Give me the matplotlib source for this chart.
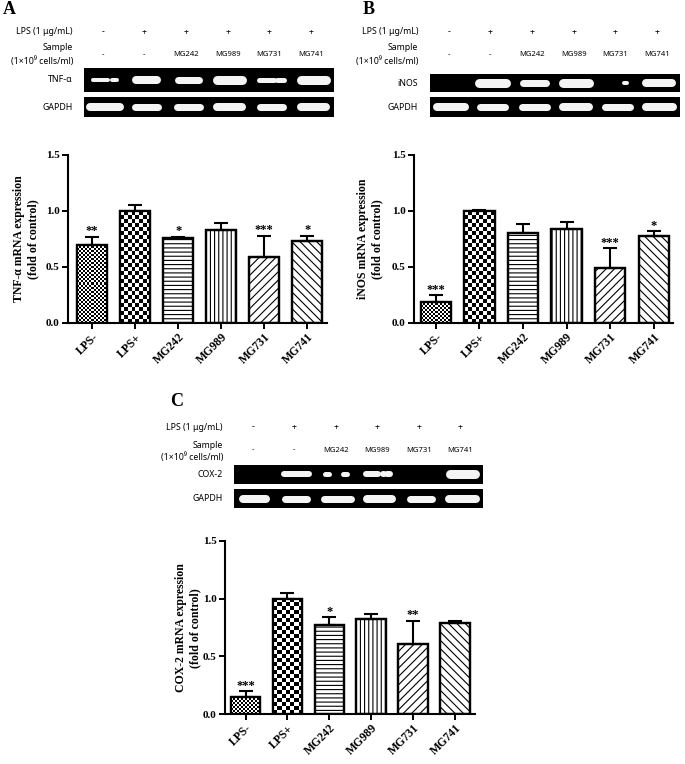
import numpy as np
import matplotlib
matplotlib.use('Agg')
import matplotlib.pyplot as plt

# ---- data ----
groups = ['LPS-', 'LPS+', 'MG242', 'MG989', 'MG731', 'MG741']
lps_row = ['-', '+', '+', '+', '+', '+']
sample_row = ['-', '-', 'MG242', 'MG989', 'MG731', 'MG741']

tnf_mean = [0.70, 1.00, 0.76, 0.83, 0.59, 0.73]
tnf_err = [0.07, 0.05, 0.01, 0.06, 0.19, 0.05]
tnf_sig = ['**', '', '*', '', '***', '*']

inos_mean = [0.19, 1.00, 0.80, 0.84, 0.49, 0.78]
inos_err = [0.06, 0.01, 0.08, 0.06, 0.18, 0.04]
inos_sig = ['***', '', '', '', '***', '*']

cox_mean = [0.15, 1.00, 0.77, 0.82, 0.61, 0.79]
cox_err = [0.05, 0.05, 0.07, 0.05, 0.20, 0.02]
cox_sig = ['***', '', '*', '', '**', '']

# gel bands: per lane a list of (start, end) offsets from lane centre, in lane widths
tnf_bands = [[(-0.28, 0.08), (0.18, 0.28)], [(-0.25, 0.25)], [(-0.25, 0.25)],
             [(-0.30, 0.30)], [(-0.30, 0.05), (0.12, 0.30)], [(-0.30, 0.30)]]
tnf_thick = [4, 8, 7, 9, 5, 9]
inos_bands = [[], [(-0.33, 0.33)], [(-0.28, 0.28)], [(-0.32, 0.32)],
              [(-0.12, -0.10), (0.15, 0.22)], [(-0.32, 0.30)]]
inos_thick = [0, 9, 7, 9, 4, 8]
cox_bands = [[], [(-0.30, 0.30)], [(-0.30, -0.20), (0.12, 0.22)],
             [(-0.32, -0.02), (0.10, 0.12), (0.18, 0.26)], [], [(-0.30, 0.30)]]
cox_thick = [0, 6, 5, 6, 0, 9]
gapdh_a = [[(-0.36, 0.36)], [(-0.28, 0.28)], [(-0.28, 0.28)], [(-0.30, 0.30)],
           [(-0.28, 0.28)], [(-0.30, 0.30)]]
gapdh_b = [[(-0.34, 0.34)], [(-0.30, 0.30)], [(-0.30, 0.30)], [(-0.32, 0.32)],
           [(-0.30, 0.30)], [(-0.32, 0.32)]]
gapdh_c = [[(-0.28, 0.28)], [(-0.26, 0.26)], [(-0.32, 0.32)], [(-0.30, 0.30)],
           [(-0.27, 0.27)], [(-0.32, 0.32)]]
gapdh_thick = [8, 7, 7, 8, 7, 8]

W, H = 685, 764
SERIF = 'Liberation Serif'
SANS = ['Noto Sans', 'DejaVu Sans']
plt.rcParams['hatch.linewidth'] = 0.8

fig = plt.figure(figsize=(W / 100, H / 100), dpi=100)


def rect(x0, y0, x1, y1):
    return [x0 / W, 1 - y1 / H, (x1 - x0) / W, (y1 - y0) / H]


def ftext(x, y, s, **kw):
    fig.text(x / W, 1 - y / H, s, **kw)


def draw_gel(box, bands, thick):
    ax = fig.add_axes(rect(*box))
    ax.set_facecolor('black')
    for i, segs in enumerate(bands):
        for a, b in segs:
            ax.plot([i + 0.5 + a, i + 0.5 + b], [0.5, 0.5], color='#f4f4f4',
                    lw=thick[i] * 0.72, solid_capstyle='round')
    ax.set_xlim(0, 6)
    ax.set_ylim(0, 1)
    ax.set_xticks([])
    ax.set_yticks([])
    for s in ax.spines.values():
        s.set_visible(False)


def draw_header(letter, letter_xy, lbl_x, gx0, gx1, ys, gel_name, gel_boxes, gel_bands, gel_thick):
    ftext(letter_xy[0], letter_xy[1], letter, family=SERIF, weight='bold',
          fontsize=13, ha='left', va='center')
    y_lps, y_samp, y_cells, y_val = ys
    ftext(lbl_x, y_lps, 'LPS (1 μg/mL)', family=SANS, fontsize=6.3, ha='right', va='center')
    ftext(lbl_x, y_samp, 'Sample', family=SANS, fontsize=6.3, ha='right', va='center')
    ftext(lbl_x, y_cells, '(1×10⁹ cells/ml)', family=SANS, fontsize=6.3, ha='right', va='center')
    lane_w = (gx1 - gx0) / 6
    for i in range(6):
        cx = gx0 + lane_w * (i + 0.45)
        ftext(cx, y_lps, lps_row[i], family=SANS, fontsize=6.3, ha='center', va='center')
        ftext(cx, y_val, sample_row[i], family=SANS, fontsize=5.5, ha='center', va='center')
    names = [gel_name, 'GAPDH']
    for k in range(2):
        box = (gx0, gel_boxes[k][0], gx1, gel_boxes[k][1])
        draw_gel(box, gel_bands[k], gel_thick[k])
        ftext(lbl_x, (gel_boxes[k][0] + gel_boxes[k][1]) / 2, names[k], family=SANS,
              fontsize=6.3, ha='right', va='center')


def checker(ax, bar, cell):
    x0 = bar.get_x()
    x1 = x0 + bar.get_width()
    h = bar.get_height()
    (p0x, p0y), (p1x, p1y) = ax.transData.transform([(x0, 0), (x1, h)])
    nx = max(1, int(round((p1x - p0x) / cell)))
    ny = max(1, int(round((p1y - p0y) / cell)))
    arr = np.indices((ny, nx)).sum(axis=0) % 2
    im = ax.imshow(arr, extent=(x0, x1, 0, h), origin='lower', cmap='gray',
                   interpolation='nearest', aspect='auto', zorder=2)
    im.set_clip_path(bar)


hatches = [None, None, '----', '||||', '////', '\\\\\\\\']
cells = [2.0, 4.0, None, None, None, None]


def draw_chart(box, xlim, mean, err, sig, ylab, ylab_xy):
    ax = fig.add_axes(rect(*box))
    x = np.arange(len(groups))
    ax.set_xlim(*xlim)
    ax.set_ylim(0, 1.5)
    bars = ax.bar(x, mean, width=0.7, color='white', edgecolor='black', lw=1.6, zorder=1)
    for b, h in zip(bars, hatches):
        if h:
            b.set_hatch(h)
    for b, c in zip(bars, cells):
        if c:
            checker(ax, b, c)
    ax.bar(x, mean, width=0.7, color='none', edgecolor='black', lw=1.6, zorder=3)
    ax.errorbar(x, mean, yerr=[np.zeros(len(err)), err], fmt='none', ecolor='black',
                elinewidth=1.5, capsize=5, capthick=1.5, zorder=4)
    for xi, m, e, s in zip(x, mean, err, sig):
        if s:
            ax.text(xi, m + e - 0.005, s, ha='center', va='bottom', fontsize=9,
                    family=SERIF, weight='bold')
    ax.set_xlim(*xlim)
    ax.set_ylim(0, 1.5)
    ax.set_yticks([0, 0.5, 1.0, 1.5])
    ax.set_yticklabels(['0.0', '0.5', '1.0', '1.5'], family=SERIF, weight='bold', fontsize=8)
    ax.set_xticks(x)
    ax.set_xticklabels(groups, rotation=45, ha='right', rotation_mode='anchor',
                       family=SERIF, weight='bold', fontsize=8.5)
    ax.tick_params(width=1.4, length=4, pad=2)
    for s in ['top', 'right']:
        ax.spines[s].set_visible(False)
    for s in ['left', 'bottom']:
        ax.spines[s].set_linewidth(1.5)
    ftext(ylab_xy[0], ylab_xy[1], ylab, family=SERIF, weight='bold', fontsize=8.5,
          rotation=90, ha='center', va='center', linespacing=1.2)


# panel A
draw_header('A', (3, 10), 73, 84, 334, (32, 48, 61, 55), 'TNF-α',
            [(68, 92), (97, 117)], [tnf_bands, gapdh_a], [tnf_thick, gapdh_thick])
draw_chart((68, 155, 327, 323), (-0.56, 5.46), tnf_mean, tnf_err, tnf_sig,
           'TNF-α mRNA expression\n(fold of control)', (26, 239))

# panel B
draw_header('B', (363, 10), 418, 430, 680, (32, 48, 61, 55), 'iNOS',
            [(74, 92), (97, 117)], [inos_bands, gapdh_b], [inos_thick, gapdh_thick])
draw_chart((414, 155, 673, 323), (-0.5, 5.44), inos_mean, inos_err, inos_sig,
           'iNOS mRNA expression\n(fold of control)', (370, 239))

# panel C
draw_header('C', (170, 401), 223, 234, 483, (427, 445, 457, 450), 'COX-2',
            [(465, 484), (489, 508)], [cox_bands, gapdh_c], [cox_thick, gapdh_thick])
draw_chart((225, 541, 475, 714), (-0.49, 5.48), cox_mean, cox_err, cox_sig,
           'COX-2 mRNA expression\n(fold of control)', (188, 628))

fig.savefig('out.png', dpi=100)
